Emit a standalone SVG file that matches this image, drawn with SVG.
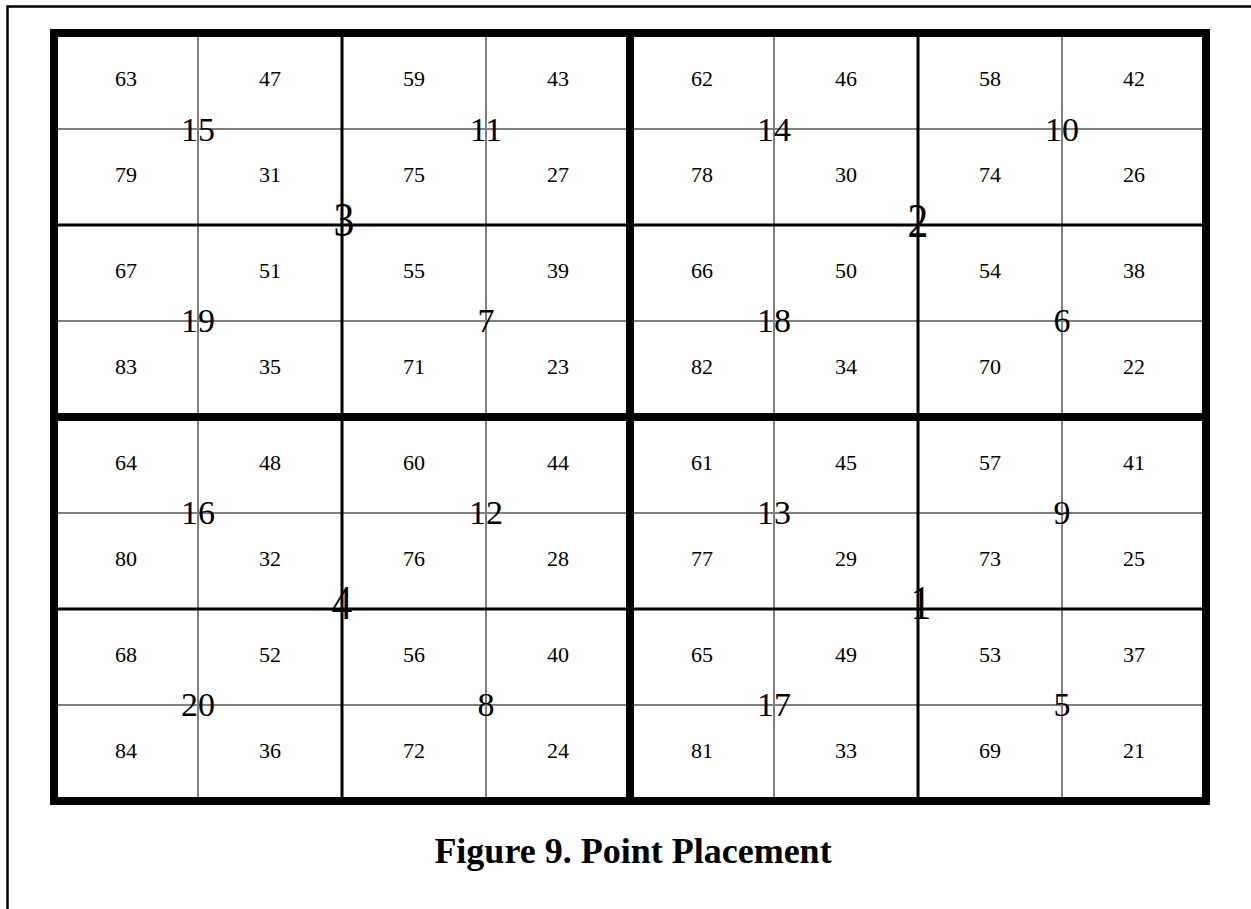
<svg xmlns="http://www.w3.org/2000/svg" width="1251" height="909" viewBox="0 0 1251 909">
<style>
.thin{stroke:#808080;stroke-width:2;fill:none}
.med{stroke:#000;stroke-width:3;fill:none}
.thick{stroke:#000;stroke-width:8;fill:none}
.s{font-family:"Liberation Serif","Times New Roman",serif;font-size:22px;text-anchor:middle;fill:#000}
.b{font-family:"Liberation Serif","Times New Roman",serif;font-size:34px;text-anchor:middle;fill:#000}
.L{font-family:"Liberation Serif","Times New Roman",serif;font-size:49px;text-anchor:middle;fill:#000}
.t{font-family:"Liberation Serif","Times New Roman",serif;font-size:36px;font-weight:bold;text-anchor:middle;fill:#000}
</style>
<rect x="0" y="0" width="1251" height="909" fill="#fff"/>
<rect x="7.5" y="6.5" width="1400" height="1000" fill="none" stroke="#000" stroke-width="2.5"/>
<g id="grid">
<g class="thin">
<line x1="198" y1="33" x2="198" y2="801"/><line x1="486" y1="33" x2="486" y2="801"/><line x1="774" y1="33" x2="774" y2="801"/><line x1="1062" y1="33" x2="1062" y2="801"/>
<line x1="54" y1="129" x2="1206" y2="129"/><line x1="54" y1="321" x2="1206" y2="321"/><line x1="54" y1="513" x2="1206" y2="513"/><line x1="54" y1="705" x2="1206" y2="705"/>
</g>
<g class="med">
<line x1="342" y1="33" x2="342" y2="801"/><line x1="918" y1="33" x2="918" y2="801"/>
<line x1="54" y1="225" x2="1206" y2="225"/><line x1="54" y1="609" x2="1206" y2="609"/>
</g>
<g class="thick">
<line x1="630" y1="33" x2="630" y2="801"/><line x1="54" y1="417" x2="1206" y2="417"/>
<rect x="54" y="33" width="1152" height="768"/>
</g>
</g>
<g id="cells">
<g class="s">
<text x="126" y="86">63</text><text x="270" y="86">47</text><text x="414" y="86">59</text><text x="558" y="86">43</text><text x="702" y="86">62</text><text x="846" y="86">46</text><text x="990" y="86">58</text><text x="1134" y="86">42</text>
<text x="126" y="182">79</text><text x="270" y="182">31</text><text x="414" y="182">75</text><text x="558" y="182">27</text><text x="702" y="182">78</text><text x="846" y="182">30</text><text x="990" y="182">74</text><text x="1134" y="182">26</text>
<text x="126" y="278">67</text><text x="270" y="278">51</text><text x="414" y="278">55</text><text x="558" y="278">39</text><text x="702" y="278">66</text><text x="846" y="278">50</text><text x="990" y="278">54</text><text x="1134" y="278">38</text>
<text x="126" y="374">83</text><text x="270" y="374">35</text><text x="414" y="374">71</text><text x="558" y="374">23</text><text x="702" y="374">82</text><text x="846" y="374">34</text><text x="990" y="374">70</text><text x="1134" y="374">22</text>
<text x="126" y="470">64</text><text x="270" y="470">48</text><text x="414" y="470">60</text><text x="558" y="470">44</text><text x="702" y="470">61</text><text x="846" y="470">45</text><text x="990" y="470">57</text><text x="1134" y="470">41</text>
<text x="126" y="566">80</text><text x="270" y="566">32</text><text x="414" y="566">76</text><text x="558" y="566">28</text><text x="702" y="566">77</text><text x="846" y="566">29</text><text x="990" y="566">73</text><text x="1134" y="566">25</text>
<text x="126" y="662">68</text><text x="270" y="662">52</text><text x="414" y="662">56</text><text x="558" y="662">40</text><text x="702" y="662">65</text><text x="846" y="662">49</text><text x="990" y="662">53</text><text x="1134" y="662">37</text>
<text x="126" y="758">84</text><text x="270" y="758">36</text><text x="414" y="758">72</text><text x="558" y="758">24</text><text x="702" y="758">81</text><text x="846" y="758">33</text><text x="990" y="758">69</text><text x="1134" y="758">21</text>
</g>
</g>
<g id="points">
<g id="p1"><text class="L" transform="translate(921,619) scale(0.85,1)">1</text></g>
<g id="p2"><text class="L" transform="translate(918,237) scale(0.85,1)">2</text></g>
<g id="p3"><text class="L" transform="translate(344,236) scale(0.85,1)">3</text></g>
<g id="p4"><text class="L" transform="translate(342,619) scale(0.85,1)">4</text></g>
<g id="p5"><text class="b" x="1062" y="716">5</text></g>
<g id="p6"><text class="b" x="1062" y="332">6</text></g>
<g id="p7"><text class="b" x="486" y="332">7</text></g>
<g id="p8"><text class="b" x="486" y="716">8</text></g>
<g id="p9"><text class="b" x="1062" y="524">9</text></g>
<g id="p10"><text class="b" x="1062" y="141">10</text></g>
<g id="p11"><text class="b" x="486" y="141">11</text></g>
<g id="p12"><text class="b" x="486" y="524">12</text></g>
<g id="p13"><text class="b" x="774" y="524">13</text></g>
<g id="p14"><text class="b" x="774" y="141">14</text></g>
<g id="p15"><text class="b" x="198" y="141">15</text></g>
<g id="p16"><text class="b" x="198" y="524">16</text></g>
<g id="p17"><text class="b" x="774" y="716">17</text></g>
<g id="p18"><text class="b" x="774" y="332">18</text></g>
<g id="p19"><text class="b" x="198" y="332">19</text></g>
<g id="p20"><text class="b" x="198" y="716">20</text></g>
</g>
<g id="caption"><text class="t" x="633" y="863">Figure 9. Point Placement</text></g>
</svg>
